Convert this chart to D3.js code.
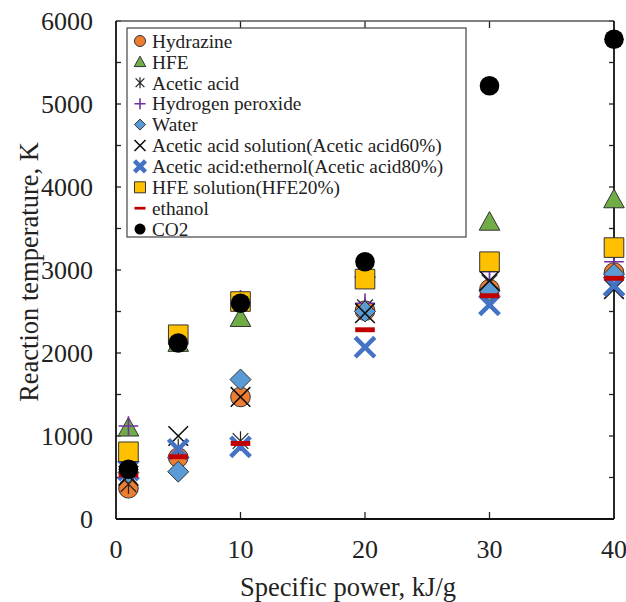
<!DOCTYPE html>
<html>
<head>
<meta charset="utf-8">
<script src="https://cdn.jsdelivr.net/npm/d3@7"></script>
<style>
  body { margin: 0; background: #fff; }
</style>
</head>
<body>
<svg id="chart" width="626" height="602" font-family="'Liberation Serif', Tinos, 'Times New Roman', 'DejaVu Serif', serif"></svg>
<script>
// ==============================
// DATA
// ==============================
const xValues = [1, 5, 10, 20, 30, 40];
const seriesNames = [
  "Hydrazine", "HFE", "Acetic acid", "Hydrogen peroxide", "Water",
  "Acetic acid solution(Acetic acid60%)", "Acetic acid:ethernol(Acetic acid80%)",
  "HFE solution(HFE20%)", "ethanol", "CO2"
];
const hydrazine        = [370, 740, 1470, 2510, 2770, 2970];
const hfe              = [1100, 2120, 2420, 3010, 3580, 3850];
const aceticAcid       = [420, 850, 940, 2550, 2850, 2780];
const hydrogenPeroxide = [1120, 2170, 2640, 2600, 2980, 3100];
const water            = [560, 570, 1680, 2500, 2750, 2950];
const aceticSolution   = [520, 1000, 1470, 2480, 2870, 2770];
const aceticEthanol    = [590, 840, 870, 2070, 2580, 2810];
const hfeSolution      = [810, 2220, 2620, 2890, 3100, 3270];
const ethanol          = [530, 750, 910, 2280, 2690, 2900];
const co2              = [600, 2120, 2600, 3100, 5220, 5780];

const xTicks = [0, 10, 20, 30, 40];
const yTicks = [0, 1000, 2000, 3000, 4000, 5000, 6000];

// ==============================
// LAYOUT
// ==============================
const plot = { left: 116, right: 614, top: 21, bottom: 519 };
const svg = d3.select("#chart");
const FONT = "'Liberation Serif', Tinos, 'Times New Roman', 'DejaVu Serif', serif";

const x = d3.scaleLinear().domain([0, 40]).range([plot.left, plot.right]);
const y = d3.scaleLinear().domain([0, 6000]).range([plot.bottom, plot.top]);

// marker styles, in legend order
const styles = [
  { shape: "circle",   fill: "#ED7D31", stroke: "#333" },
  { shape: "triangle", fill: "#70AD47", stroke: "#333" },
  { shape: "star",     fill: "none",    stroke: "#222", sw: 1.2 },
  { shape: "plus",     fill: "none",    stroke: "#7030A0", sw: 1.6 },
  { shape: "diamond",  fill: "#5B9BD5", stroke: "#333" },
  { shape: "x",        fill: "none",    stroke: "#111", sw: 1.6 },
  { shape: "x",        fill: "none",    stroke: "#4472C4", sw: 4.5 },
  { shape: "square",   fill: "#FFC000", stroke: "#333" },
  { shape: "dash",     fill: "#C00000", stroke: "none" },
  { shape: "circle",   fill: "#000",    stroke: "none" }
];
const allSeries = [hydrazine, hfe, aceticAcid, hydrogenPeroxide, water,
  aceticSolution, aceticEthanol, hfeSolution, ethanol, co2];

function markerPath(shape, h) {
  const p = d3.path();
  if (shape === "circle") { p.arc(0, 0, h, 0, 2 * Math.PI); }
  else if (shape === "triangle") { p.moveTo(0, -h * 1.05); p.lineTo(h * 1.05, h * 0.85); p.lineTo(-h * 1.05, h * 0.85); p.closePath(); }
  else if (shape === "square") { p.rect(-h, -h, 2 * h, 2 * h); }
  else if (shape === "diamond") { p.moveTo(0, -h); p.lineTo(h, 0); p.lineTo(0, h); p.lineTo(-h, 0); p.closePath(); }
  else if (shape === "plus") { p.moveTo(-h, 0); p.lineTo(h, 0); p.moveTo(0, -h); p.lineTo(0, h); }
  else if (shape === "x") { p.moveTo(-h, -h); p.lineTo(h, h); p.moveTo(h, -h); p.lineTo(-h, h); }
  else if (shape === "star") { const k = h * 0.8; p.moveTo(-k, -k); p.lineTo(k, k); p.moveTo(k, -k); p.lineTo(-k, k); p.moveTo(0, -h); p.lineTo(0, h); }
  else if (shape === "dash") { p.rect(-h, -h * 0.25, 2 * h, h * 0.5); }
  return p.toString();
}

function drawMarker(g, st, h) {
  g.append("path")
    .attr("d", markerPath(st.shape, h))
    .attr("fill", st.fill)
    .attr("stroke", st.stroke)
    .attr("stroke-width", st.sw || 1);
}

// ==============================
// AXES AND FRAME
// ==============================
const yMinor = d3.range(0, 6001, 500);
const xInner = [10, 20, 30];

// left/right ticks
svg.append("g").selectAll("line").data(yMinor).join("line")
  .attr("x1", plot.left).attr("x2", plot.left + 5)
  .attr("y1", d => y(d)).attr("y2", d => y(d))
  .attr("stroke", "#222").attr("stroke-width", 1.3);
svg.append("g").selectAll("line").data(yMinor).join("line")
  .attr("x1", plot.right).attr("x2", plot.right - 5)
  .attr("y1", d => y(d)).attr("y2", d => y(d))
  .attr("stroke", "#222").attr("stroke-width", 1.3);
// bottom/top ticks
svg.append("g").selectAll("line").data(xInner).join("line")
  .attr("x1", d => x(d)).attr("x2", d => x(d))
  .attr("y1", plot.bottom).attr("y2", plot.bottom - 7)
  .attr("stroke", "#222").attr("stroke-width", 1.3);
svg.append("g").selectAll("line").data(xInner).join("line")
  .attr("x1", d => x(d)).attr("x2", d => x(d))
  .attr("y1", plot.top).attr("y2", plot.top + 7)
  .attr("stroke", "#222").attr("stroke-width", 1.3);

// frame
svg.append("line").attr("x1", plot.left).attr("x2", plot.right).attr("y1", plot.top).attr("y2", plot.top)
  .attr("stroke", "#555").attr("stroke-width", 1.5);
svg.append("line").attr("x1", plot.right).attr("x2", plot.right).attr("y1", plot.top).attr("y2", plot.bottom)
  .attr("stroke", "#111").attr("stroke-width", 1.8);
svg.append("line").attr("x1", plot.left).attr("x2", plot.left).attr("y1", plot.top).attr("y2", plot.bottom)
  .attr("stroke", "#111").attr("stroke-width", 1.8);
svg.append("line").attr("x1", plot.left).attr("x2", plot.right).attr("y1", plot.bottom).attr("y2", plot.bottom)
  .attr("stroke", "#111").attr("stroke-width", 1.8);

// tick labels
svg.append("g").selectAll("text").data(yTicks).join("text")
  .attr("x", 93).attr("y", d => y(d)).attr("dy", "0.35em")
  .attr("text-anchor", "end").attr("font-size", 26)
  .attr("font-family", FONT).attr("fill", "#222")
  .text(d => d);
svg.append("g").selectAll("text").data(xTicks).join("text")
  .attr("x", d => x(d)).attr("y", 558)
  .attr("text-anchor", "middle").attr("font-size", 26)
  .attr("font-family", FONT).attr("fill", "#222")
  .text(d => d);

// axis titles
svg.append("text")
  .attr("x", 348).attr("y", 596)
  .attr("text-anchor", "middle").attr("font-size", 26.5)
  .attr("font-family", FONT).attr("fill", "#222")
  .text("Specific power, kJ/g");
svg.append("text")
  .attr("transform", `translate(38,272) rotate(-90)`)
  .attr("text-anchor", "middle").attr("font-size", 26.5)
  .attr("font-family", FONT).attr("fill", "#222")
  .text("Reaction temperature, K");

// ==============================
// LEGEND
// ==============================
const legend = svg.append("g");
legend.append("rect")
  .attr("x", 127).attr("y", 28).attr("width", 339).attr("height", 209)
  .attr("fill", "#fff").attr("stroke", "#444").attr("stroke-width", 1.2);
seriesNames.forEach((name, i) => {
  const ly = 41 + i * 20.9;
  const g = legend.append("g").attr("transform", `translate(140,${ly})`);
  drawMarker(g, styles[i], 5.5);
  legend.append("text")
    .attr("x", 152).attr("y", ly).attr("dy", "0.35em")
    .attr("font-size", 19.3)
    .attr("font-family", FONT).attr("fill", "#222")
    .text(name);
});

// ==============================
// POINTS
// ==============================
allSeries.forEach((vals, i) => {
  const g = svg.append("g");
  vals.forEach((v, j) => {
    const m = g.append("g").attr("transform", `translate(${x(xValues[j])},${y(v)})`);
    drawMarker(m, styles[i], styles[i].shape === "diamond" ? 10.5 : 9.8);
  });
});
</script>
</body>
</html>
